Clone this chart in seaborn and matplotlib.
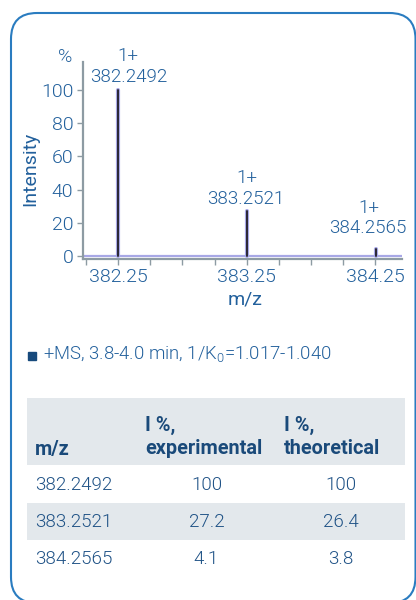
import numpy as np
import pandas as pd
import matplotlib
matplotlib.use("Agg")
import matplotlib.pyplot as plt
from matplotlib.patches import FancyBboxPatch, Rectangle
import seaborn as sns

# Isotope pattern of the 1+ ion
mz = [382.2492, 383.2521, 384.2565]
charge = ["1+", "1+", "1+"]
intensity_exp = [100, 27.2, 4.1]
intensity_theo = [100, 26.4, 3.8]

y_ticks = [0, 20, 40, 60, 80, 100]
x_ticks = [382.0, 382.25, 382.5, 382.75, 383.0, 383.25, 383.5, 383.75, 384.0, 384.25]
x_labeled = [382.25, 383.25, 384.25]

spectrum_title = "+MS, 3.8-4.0 min, 1/K$_0$=1.017-1.040"
table_header = ["m/z", "I %,\nexperimental", "I %,\ntheoretical"]

# colours
TXT = "#22609c"
TBL = "#1f5286"
HDR = "#1a4a7a"
AXC = "#8d9ba3"
LAV = "#a8a8e6"
PEAK = "#2a2633"
BORDER = "#2a7cc0"
SHADE = "#e3e8ec"

sns.set_theme(style="white")
plt.rcParams["font.family"] = ["Roboto", "DejaVu Sans"]
plt.rcParams["font.weight"] = 300
plt.rcParams["mathtext.fontset"] = "custom"
plt.rcParams["mathtext.rm"] = "Roboto:weight=300"
plt.rcParams["mathtext.it"] = "Roboto:italic"
plt.rcParams["mathtext.bf"] = "Roboto:bold"

W, H = 416, 600
fig = plt.figure(figsize=(W / 100, H / 100), dpi=100)
fig.patch.set_facecolor("white")

# pixel-space canvas for the frame, caption and table (y measured from the top)
bg = fig.add_axes([0, 0, 1, 1], zorder=0)
bg.set_xlim(0, W)
bg.set_ylim(0, H)
bg.axis("off")


def py(y):
    return H - y


bg.add_patch(FancyBboxPatch((11, py(603)), 404.5, 590,
                            boxstyle="round,pad=0,rounding_size=26",
                            fc="none", ec=BORDER, lw=1.5, clip_on=False))

# ---- spectrum ----
left, right, top, bottom = 83, 402, 62, 258.5
ax = fig.add_axes([left / W, (H - bottom) / H, (right - left) / W, (bottom - top) / H], zorder=1)
ax.set_facecolor("none")

sticks = pd.DataFrame({
    "mz": np.repeat(mz, 2),
    "I": np.ravel([[0, v] for v in intensity_exp]),
    "peak": np.repeat(np.arange(len(mz)), 2),
})
ax.axhline(0, color=LAV, lw=1.6, zorder=2)
sns.lineplot(data=sticks, x="mz", y="I", units="peak", estimator=None, sort=False,
             color=LAV, lw=3.0, ax=ax, zorder=3)
sns.lineplot(data=sticks, x="mz", y="I", units="peak", estimator=None, sort=False,
             color=PEAK, lw=1.4, ax=ax, zorder=4)

ax.set_xlim(381.975, 384.461)
ax.set_ylim(-1.5, 116.9)
ax.set_xticks(x_ticks)
ax.set_xticklabels([f"{t:.2f}" if t in x_labeled else "" for t in x_ticks])
ax.set_yticks(y_ticks)
ax.set_yticklabels([str(t) for t in y_ticks])

for s in ("top", "right"):
    ax.spines[s].set_visible(False)
for s in ("left", "bottom"):
    ax.spines[s].set_color(AXC)
    ax.spines[s].set_linewidth(1.6)
ax.tick_params(axis="both", which="both", direction="out", length=4.5, width=1.0,
               color=AXC, labelcolor=TXT, labelsize=14, pad=2.5, left=True, bottom=True)
ax.grid(False)

ax.set_xlabel("m/z", fontsize=14, color=TXT)
ax.xaxis.label.set_va("center")
ax.xaxis.set_label_coords((245 - left) / (right - left), -(300 - bottom) / (bottom - top))
ax.set_ylabel("Intensity", fontsize=14, color=TXT)
ax.yaxis.label.set_va("center")
ax.yaxis.set_label_coords((30 - left) / (right - left), (bottom - 169) / (bottom - top))
ax.text((65 - left) / (right - left), (bottom - 57) / (bottom - top), "%",
        transform=ax.transAxes, ha="center", va="center", fontsize=14, color=TXT)

# peak annotations (pixel offsets from the peak apex)
num_off = [(11, 13), (-1, 12), (-8, 21)]
chg_off = [(10, 34.5), (0, 33), (-7, 41)]
for x, y, z, no, co in zip(mz, intensity_exp, charge, num_off, chg_off):
    ax.annotate(f"{x:.4f}", xy=(x, y), xytext=no, textcoords="offset pixels",
                ha="center", va="center", fontsize=13.5, color=TXT)
    ax.annotate(z, xy=(x, y), xytext=co, textcoords="offset pixels",
                ha="center", va="center", fontsize=13.5, color=TXT)

# ---- caption ----
bg.plot([32], [py(355.5)], marker="s", ms=5.8, color="#174a7c", ls="none")
bg.text(43, py(354), spectrum_title, ha="left", va="center", fontsize=13.3, color=TXT)

# ---- table ----
bg.add_patch(Rectangle((27, py(465)), 378, 67, fc=SHADE, ec="none"))
bg.add_patch(Rectangle((27, py(540)), 378, 37, fc=SHADE, ec="none"))

hdr_kw = dict(fontsize=14.3, fontweight="bold", color=HDR, va="center", ha="left")
bg.text(35, py(449), table_header[0], **hdr_kw)
for x0, h in zip([145, 284], table_header[1:]):
    l1, l2 = h.split("\n")
    bg.text(x0, py(425), l1, **hdr_kw)
    bg.text(x0, py(449), l2, **hdr_kw)

row_y = [485, 522, 559]
for yy, m, e, t in zip(row_y, mz, intensity_exp, intensity_theo):
    bg.text(35, py(yy), f"{m:.4f}", ha="left", va="center", fontsize=13.5, color=TBL)
    bg.text(206.5, py(yy), f"{e:g}", ha="center", va="center", fontsize=13.5, color=TBL)
    bg.text(340.5, py(yy), f"{t:g}", ha="center", va="center", fontsize=13.5, color=TBL)

fig.savefig("out.png", dpi=100)
